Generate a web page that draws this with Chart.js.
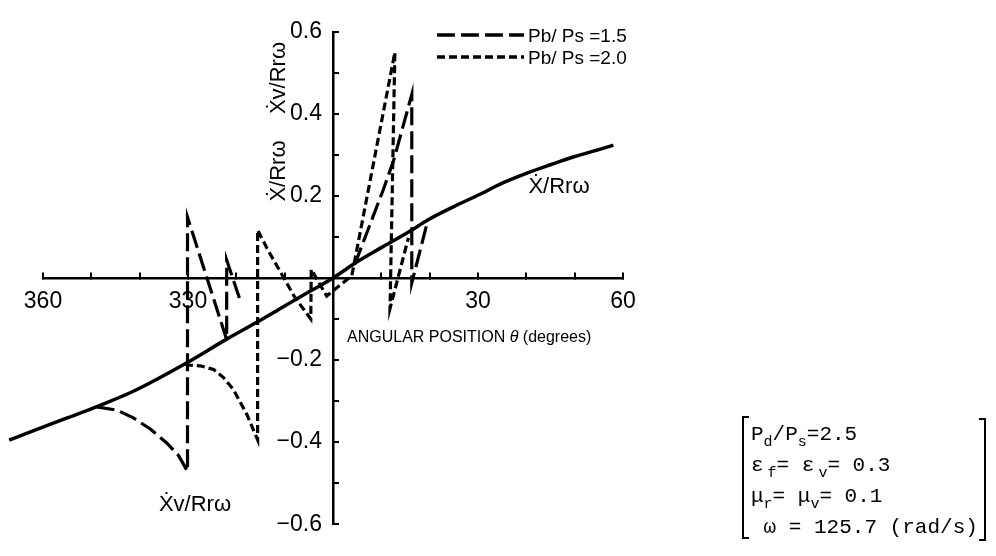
<!DOCTYPE html>
<html>
<head>
<meta charset="utf-8">
<script src="https://cdn.jsdelivr.net/npm/chart.js@4"></script>
<style>
  html, body { margin: 0; padding: 0; background: #fff; }
  #valveChart { display: block; }
</style>
</head>
<body>
<canvas id="valveChart" width="996" height="556"></canvas>
<script>
// angular position in degrees (negative = 300..360 side of the plot)
const thetaSolid = [-67, -55, -49, -41.3, -30.6, -22, -15.5, -10, -4.4, 0, 4.9, 10, 15.9, 19.7, 25, 30.4, 35, 40, 45, 50, 55, 58];
const xdotSolid = [-0.395, -0.341, -0.314, -0.276, -0.209, -0.149, -0.106, -0.068, -0.030, 0, 0.039, 0.074, 0.114, 0.142, 0.174, 0.204, 0.231, 0.255, 0.276, 0.296, 0.313, 0.324];

// Pb/Ps = 1.5 (long dash), null = break in the curve
const thetaLong = [-48.9, -44.7, -41.3, -37.8, -34.4, -32.0, -30.1, -30.1, -22.0, -22.0, -19.3, -19.3, 4.5, 10.4, 12.5, 15.2, 16.3, 16.3, 19.7];
const xvLong = [-0.314, -0.322, -0.341, -0.368, -0.402, -0.432, -0.471, 0.148, -0.150, 0.044, -0.051, null, 0.033, 0.215, 0.285, 0.400, 0.447, -0.012, 0.144];

// Pb/Ps = 2.0 (short dash)
const thetaShort = [-30.6, -29.9, -27.5, -24.7, -22.7, -20.6, -17.8, -15.6, -15.6, -13.5, -10.7, -7.9, -4.6, -4.5, -1.3, 3.9, 12.8, 11.8, 15.6];
const xvShort = [-0.209, -0.212, -0.214, -0.223, -0.242, -0.272, -0.333, -0.394, 0.117, 0.069, 0.011, -0.047, -0.100, 0.021, -0.044, 0.006, 0.550, -0.074, 0.098];

const xTickValues = [-60, -30, 30, 60];
const xTickText = ['360', '330', '30', '60'];
const yTickValues = [-0.6, -0.4, -0.2, 0.2, 0.4, 0.6];
const yTickText = ['\u22120.6', '\u22120.4', '\u22120.2', '0.2', '0.4', '0.6'];

const legendText = ['Pb/ Ps =1.5', 'Pb/ Ps =2.0'];

const SANS = '"Liberation Sans", "DejaVu Sans", sans-serif';
const MONO = '"Liberation Mono", "DejaVu Sans Mono", monospace';

function toPoints(xs, ys) {
  return xs.map((x, i) => ({ x: x, y: ys[i] }));
}

function drawRuns(ctx, x, y, runs) {
  runs.forEach(r => {
    const sub = r[1];
    ctx.font = sub ? '15px ' + MONO : '21px ' + MONO;
    ctx.fillText(r[0], x, sub ? y + 6 : y);
    x += ctx.measureText(r[0]).width + (r[2] || 0);
  });
}

const annotations = {
  id: 'annotations',
  afterDraw(chart) {
    const ctx = chart.ctx;
    ctx.save();
    ctx.fillStyle = '#000';
    ctx.strokeStyle = '#000';

    // legend
    ctx.lineWidth = 3.5;
    ctx.setLineDash([18, 6]);
    ctx.beginPath(); ctx.moveTo(437, 35); ctx.lineTo(524, 35); ctx.stroke();
    ctx.setLineDash([8, 4]);
    ctx.beginPath(); ctx.moveTo(437, 57); ctx.lineTo(524, 57); ctx.stroke();
    ctx.setLineDash([]);
    ctx.font = '19px ' + SANS;
    ctx.textBaseline = 'alphabetic';
    ctx.textAlign = 'left';
    ctx.fillText(legendText[0], 528, 42);
    ctx.fillText(legendText[1], 528, 64);

    // curve labels
    ctx.font = '22px ' + SANS;
    ctx.textAlign = 'center';
    ctx.textBaseline = 'middle';
    ctx.fillText('\u1E8A/Rr\u03C9', 559, 187);
    ctx.fillText('\u1E8Av/Rr\u03C9', 195, 505);

    // y axis titles
    ctx.save();
    ctx.translate(279, 78);
    ctx.rotate(-Math.PI / 2);
    ctx.fillText('\u1E8Av/Rr\u03C9', 0, 0);
    ctx.restore();
    ctx.save();
    ctx.translate(279, 171);
    ctx.rotate(-Math.PI / 2);
    ctx.fillText('\u1E8A/Rr\u03C9', 0, 0);
    ctx.restore();

    // x axis title
    ctx.textAlign = 'left';
    ctx.textBaseline = 'alphabetic';
    ctx.font = '16px ' + SANS;
    let tx = 347;
    ctx.fillText('ANGULAR POSITION ', tx, 342);
    tx += ctx.measureText('ANGULAR POSITION ').width;
    ctx.font = 'italic 16px ' + SANS;
    ctx.fillText('\u03B8', tx, 342);
    tx += ctx.measureText('\u03B8 ').width;
    ctx.font = '16px ' + SANS;
    ctx.fillText('(degrees)', tx, 342);

    // parameter box
    ctx.lineWidth = 2;
    ctx.beginPath();
    ctx.moveTo(749, 417); ctx.lineTo(743, 417); ctx.lineTo(743, 538); ctx.lineTo(749, 538);
    ctx.moveTo(979, 419); ctx.lineTo(985, 419); ctx.lineTo(985, 540); ctx.lineTo(979, 540);
    ctx.stroke();
    drawRuns(ctx, 751, 440, [['P'], ['d', true], ['/P'], ['s', true], ['=2.5']]);
    drawRuns(ctx, 751, 471, [['\u03B5', false, 4], ['f', true], ['= \u03B5', false, 4], ['v', true], ['= 0.3']]);
    drawRuns(ctx, 751, 502, [['\u03BC'], ['r', true], ['= \u03BC'], ['v', true], ['= 0.1']]);
    drawRuns(ctx, 751, 533, [[' \u03C9 = 125.7 (rad/s)']]);

    ctx.restore();
  }
};

const chart = new Chart(document.getElementById('valveChart').getContext('2d'), {
  type: 'line',
  data: {
    datasets: [{
      label: '\u1E8A/Rr\u03C9',
      data: toPoints(thetaSolid, xdotSolid),
      borderColor: '#000',
      borderWidth: 3.5,
      pointRadius: 0,
      cubicInterpolationMode: 'monotone',
      clip: false
    }, {
      label: legendText[0],
      data: toPoints(thetaLong, xvLong),
      borderColor: '#000',
      borderWidth: 3.2,
      borderDash: [18, 6],
      pointRadius: 0,
      tension: 0,
      spanGaps: false
    }, {
      label: legendText[1],
      data: toPoints(thetaShort, xvShort),
      borderColor: '#000',
      borderWidth: 3.2,
      borderDash: [8, 4],
      pointRadius: 0,
      tension: 0,
      spanGaps: false
    }]
  },
  options: {
    responsive: false,
    devicePixelRatio: 1,
    animation: false,
    layout: { padding: { left: 43, right: 373, top: 21, bottom: 14 } },
    plugins: { legend: { display: false }, tooltip: { enabled: false } },
    scales: {
      x: {
        type: 'linear',
        position: 'center',
        min: -60,
        max: 60,
        border: { display: true, color: '#000', width: 2.5 },
        grid: { drawOnChartArea: false, drawTicks: true, tickLength: -7, color: '#000', lineWidth: 2 },
        ticks: {
          stepSize: 10,
          autoSkip: false,
          maxRotation: 0,
          padding: 17,
          color: '#000',
          font: { family: SANS, size: 23 },
          callback: v => {
            const i = xTickValues.indexOf(Math.round(v));
            return i < 0 ? '' : xTickText[i];
          }
        }
      },
      y: {
        type: 'linear',
        position: 'center',
        min: -0.6,
        max: 0.6,
        border: { display: true, color: '#000', width: 2.5 },
        grid: { drawOnChartArea: false, drawTicks: true, tickLength: -7, color: '#000', lineWidth: 2 },
        ticks: {
          stepSize: 0.1,
          autoSkip: false,
          padding: 18,
          color: '#000',
          font: { family: SANS, size: 23 },
          callback: v => {
            const r = Math.round(v * 10) / 10;
            const i = yTickValues.indexOf(r);
            return i < 0 ? '' : yTickText[i];
          }
        }
      }
    }
  },
  plugins: [annotations]
});
</script>
</body>
</html>
